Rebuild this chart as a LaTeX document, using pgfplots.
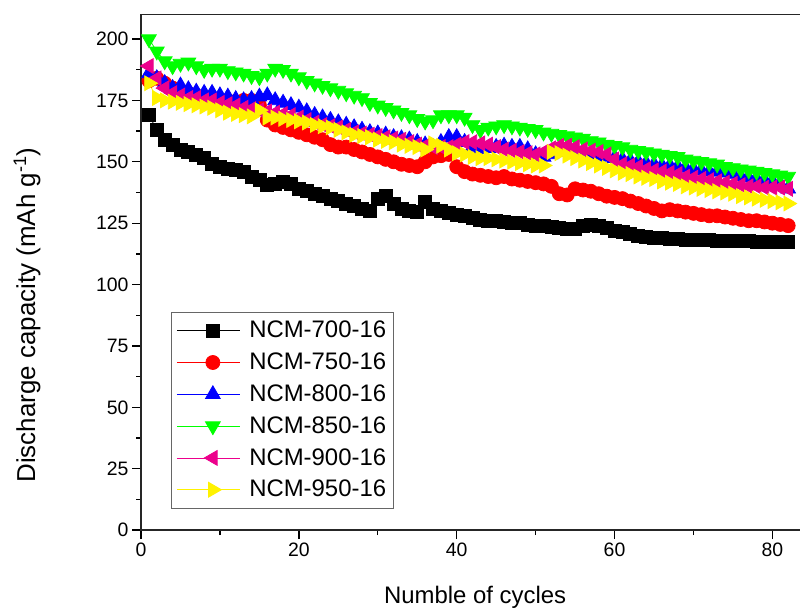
\documentclass[border=0pt]{standalone}
\usepackage{fontspec}
\setmainfont{Liberation Sans}
\usepackage{pgfplots}
\usepackage{pgfplotstable}
\pgfplotsset{compat=1.18}
\usetikzlibrary{plotmarks}

\pgfplotstableread{
x a b c d e f
1 169 183 186 200 189 182
2 163 184 184 195 184 176
3 159 182 182 191 180 175
4 157 180 180 189 178 174.5
5 155 179 181 190 177 174
6 154 178 179.5 190.5 176 173.5
7 153 177 178.5 189 176 173
8 151.5 176 178 187.5 175 172.5
9 149 176 178 188 175 172
10 148 175 177 188 174 171
11 147 175 176.5 187 173.5 170
12 146.5 174 175.5 186.5 173 169.5
13 146 175 175 186 172 169
14 144 175 175.5 185 171.5 168.5
15 142.5 173 176.5 184.5 171 171
16 140.5 167 177 186 170.5 168
17 141 165 175 188 170 168
18 142 164 174 187.5 169.5 167.5
19 141 163 173 186 169 167
20 139 162 172 184.5 168 166.5
21 138 161 170.5 183 167 166
22 137 160 169 182 166 165
23 136 159 168 181 165 164.5
24 135 157 167 180 164.5 164
25 134 156 166 179 164 163
26 133 156 165 178 163 162
27 132 155 164 177 162 161
28 131 154 163 176 161.5 160.5
29 130 153 162 174 161 160
30 135 152 161.5 173 160.5 159
31 136 151 161 172 160 158.5
32 133 150 160 171 159.5 158
33 131 149 159.5 170 159 157
34 130 148.5 159 169 158 156.5
35 129.5 148 158 167.5 157 156
36 133.5 150 157 166.5 156.5 155
37 131 152 156 167 156 157.5
38 130 152.5 158 169 156 156.5
39 129 153 160 169 156 155
40 128.5 148 160 169 157 153.5
41 128 146 158 168 158 153
42 127 145 156 165 158 152
43 126.5 144.5 155 163 157.5 151.5
44 126 144 155.5 164 157 151.5
45 125.8 143.5 156 164.5 156 151
46 125.5 144 156.5 165 155 150.5
47 125.2 143 156 164.5 154.5 150
48 125 142.5 156 164 154 149.5
49 124.5 142 155 163.5 153.5 149
50 124 141.5 153 163 153 148.5
51 123.8 141 152 162 154 148.5
52 123.5 140 153 161.5 155.5 154
53 123 137 154 161 156.5 153.5
54 122.8 136.5 154.5 160.5 156.5 152.5
55 122.5 139 154 160 156 151.5
56 124 138.5 153.5 159.5 155 150.5
57 124.5 138 153 158.5 154.5 149.5
58 124 137 152.5 158 154 148.5
59 123 136 152 157 153 147.5
60 122 135.5 151.5 156.5 151 146.5
61 121.5 135 151 156 149 145.5
62 120.5 134 150.5 155 148.5 145
63 120 133 150 154.5 148 144
64 119.5 132 149.5 154 147 143.5
65 119.2 131 149 153.5 146.5 143
66 119 130 148.5 153 146 142
67 118.8 130.5 148.5 152.5 145.5 141.5
68 118.5 130 148 152 145 141
69 118.2 129.5 147.5 151 144 140
70 118 129 147 150.5 143.5 139.5
71 118 128.5 146.5 150 143 139
72 118 128 146 149.5 142.5 138.5
73 117.8 128 146 149 142 138
74 117.8 127.5 145.5 148 141.5 137.5
75 117.8 127 145 147.5 141 137
76 117.6 126.5 144 147 140.5 136
77 117.6 126 143.5 146.5 140 135.5
78 117.5 126 143 146 140 135
79 117.5 125.5 142.5 145.5 139.5 134.5
80 117.5 125 142 145 139.5 134
81 117.5 124.5 141 144.5 139.5 133.5
82 117.5 124 139 144 139 133
}\datatable

\newcommand{\lf}{\fontsize{24}{26}\selectfont}
\pgfplotsset{
  mylegimg/.style={legend image code/.code={%
    \path (0bp,0bp) -- (63bp,0bp);
    \draw[mark repeat=2,mark phase=2,line width=0.8bp] plot coordinates {(9bp,0bp) (36bp,0bp) (63bp,0bp)};}},
}

\begin{document}
\begin{tikzpicture}
\begin{axis}[
  scale only axis,
  width=662.8bp, height=515.5bp,
  xmin=0, xmax=84, ymin=0, ymax=210,
  xtick={0,20,40,60,80}, minor xtick={10,30,50,70},
  ytick={0,25,...,200}, minor ytick={12.5,37.5,...,200},
  xtick pos=bottom, ytick pos=left,
  tick align=outside,
  major tick length=9bp, minor tick length=5bp,
  every tick/.style={black, line width=1.3bp},
  axis line style={line width=1.5bp, black!85},
  /pgf/number format/assume math mode=true,
  tick label style={font=\fontsize{19.5}{21}\selectfont},
  xlabel={Numble of cycles},
  ylabel={Discharge capacity (mAh g\textsuperscript{-1})},
  xlabel style={font=\fontsize{24}{26}\selectfont, at={(axis description cs:0.504,-0.13)}, anchor=center},
  ylabel style={font=\fontsize{26}{28}\selectfont, at={(axis description cs:-0.172,0.417)}, anchor=center},
  legend style={at={(axis description cs:0.0453,0.4229)}, anchor=north west,
    draw=black!60, line width=0.8bp, font=\lf,
    nodes={inner sep=2bp, text height=17.5bp, text depth=3bp},
    row sep=7.3bp, column sep=7bp, inner xsep=5bp, inner ysep=6bp},
  legend cell align=left,
  mylegimg,
  every axis plot/.append style={line width=0.8bp},
]
\addplot[black, mark=square*, mark size=6.5bp, mark options={solid}] table[x=x,y=a] {\datatable};
\addlegendentry{\lf NCM-700-16}
\addplot[red, mark=*, mark size=7bp] table[x=x,y=b] {\datatable};
\addlegendentry{\lf NCM-750-16}
\addplot[blue, mark=triangle*, mark size=8.5bp] table[x=x,y=c] {\datatable};
\addlegendentry{\lf NCM-800-16}
\addplot[green, mark=triangle*, mark size=8.5bp, mark options={rotate=180}] table[x=x,y=d] {\datatable};
\addlegendentry{\lf NCM-850-16}
\addplot[magenta, mark=triangle*, mark size=8.5bp, mark options={rotate=90}] table[x=x,y=e] {\datatable};
\addlegendentry{\lf NCM-900-16}
\addplot[yellow, mark=triangle*, mark size=8.5bp, mark options={rotate=-90}] table[x=x,y=f] {\datatable};
\addlegendentry{\lf NCM-950-16}
\coordinate (bbsw) at (axis cs:-17.87,-33);
\coordinate (bbne) at (axis cs:83.5,215.9);
\end{axis}
\pgfresetboundingbox
\useasboundingbox (bbsw) rectangle (bbne);
\end{tikzpicture}
\end{document}
